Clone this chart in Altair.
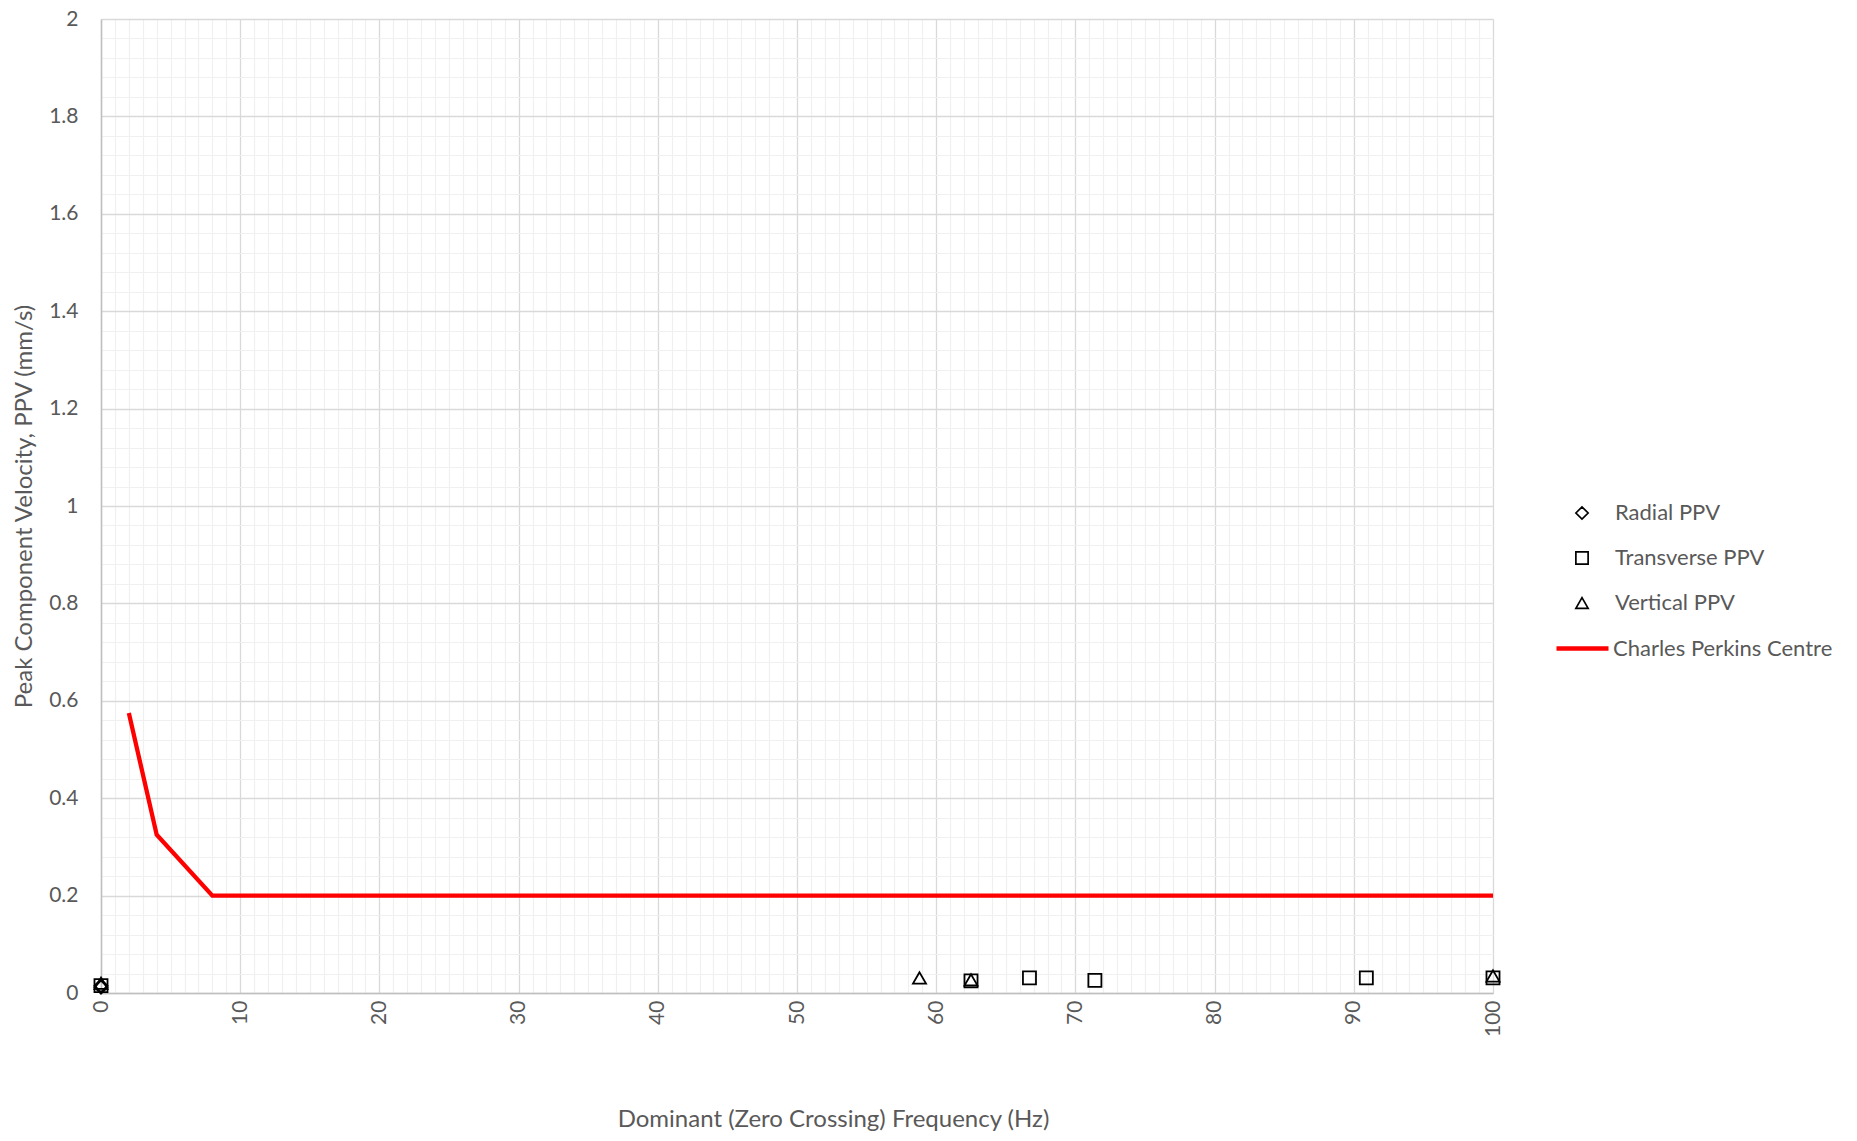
import altair as alt
import pandas as pd

# ---- data ----
radial_freq = [0, 0]
radial_ppv = [0.015, 0.012]

trans_freq = [0, 62.5, 66.7, 71.4, 90.9, 100]
trans_ppv = [0.015, 0.025, 0.031, 0.026, 0.031, 0.031]

vert_freq = [0, 58.8, 62.5, 100]
vert_ppv = [0.02, 0.031, 0.027, 0.035]

crit_freq = [2, 4, 8, 100]
crit_ppv = [0.575, 0.325, 0.2, 0.2]

series_names = ["Radial PPV", "Transverse PPV", "Vertical PPV"]
line_name = "Charles Perkins Centre"

x_ticks = list(range(0, 101))
y_ticks = [round(i * 0.04, 2) for i in range(51)]

pts = pd.DataFrame({
    "freq": radial_freq + trans_freq + vert_freq,
    "ppv": radial_ppv + trans_ppv + vert_ppv,
    "series": ["Radial PPV"] * len(radial_freq)
    + ["Transverse PPV"] * len(trans_freq)
    + ["Vertical PPV"] * len(vert_freq),
})
line_df = pd.DataFrame({"freq": crit_freq, "ppv": crit_ppv, "curve": [line_name] * len(crit_freq)})

FONT = "Lato"
LABEL_COLOR = "#595959"
PLOT_W, PLOT_H = 1392, 974

Y_MAJOR = "round(datum.value * 100) % 20 === 0"

x_enc = alt.X(
    "freq:Q",
    scale=alt.Scale(domain=[0, 100], nice=False),
    axis=alt.Axis(
        values=x_ticks,
        labelExpr="datum.value % 10 === 0 ? datum.label : ''",
        labelAngle=-90,
        labelAlign="right",
        labelBaseline="middle",
        labelPadding=7,
        labelFlush=False,
        labelOverlap=False,
        labelFont=FONT,
        labelFontSize=21,
        labelColor=LABEL_COLOR,
        ticks=False,
        domainColor="#bfbfbf",
        domainWidth=1.5,
        grid=True,
        gridColor={"condition": {"test": "datum.value % 10 === 0", "value": "#d9d9d9"}, "value": "#f0f0f0"},
        gridWidth={"condition": {"test": "datum.value % 10 === 0", "value": 1.3}, "value": 1.2},
        title="Dominant (Zero Crossing) Frequency (Hz)",
        titleFont=FONT,
        titleFontSize=24,
        titleFontWeight="normal",
        titleColor=LABEL_COLOR,
        titleX=732,
        titleY=126,
        titleAlign="center",
        titleBaseline="middle",
    ),
)

y_enc = alt.Y(
    "ppv:Q",
    scale=alt.Scale(domain=[0, 2], nice=False),
    axis=alt.Axis(
        values=y_ticks,
        labelExpr=Y_MAJOR + " ? '' + round(datum.value * 10) / 10 : ''",
        labelPadding=23,
        labelFlush=False,
        labelOverlap=False,
        labelFont=FONT,
        labelFontSize=21,
        labelColor=LABEL_COLOR,
        ticks=False,
        domainColor="#bfbfbf",
        domainWidth=1.5,
        grid=True,
        gridColor={"condition": {"test": Y_MAJOR, "value": "#d9d9d9"}, "value": "#f0f0f0"},
        gridWidth={"condition": {"test": Y_MAJOR, "value": 1.3}, "value": 1.2},
        title="Peak Component Velocity, PPV (mm/s)",
        titleFont=FONT,
        titleFontSize=24,
        titleFontWeight="normal",
        titleColor=LABEL_COLOR,
        titleAngle=-90,
        titleX=-77,
        titleY=487,
        titleAlign="center",
        titleBaseline="middle",
    ),
)

points = alt.Chart(pts).mark_point(filled=False, strokeWidth=1.8, size=170, opacity=1).encode(
    x=x_enc,
    y=y_enc,
    shape=alt.Shape(
        "series:N",
        scale=alt.Scale(domain=series_names, range=["diamond", "square", "triangle-up"]),
        legend=alt.Legend(
            title=None,
            orient="none",
            legendX=1470,
            legendY=483,
            padding=0,
            symbolSize=150,
            symbolStrokeWidth=1.7,
            symbolStrokeColor="black",
            symbolFillColor="transparent",
            labelFont=FONT,
            labelFontSize=22,
            labelColor=LABEL_COLOR,
            labelOffset=22,
            labelLimit=0,
            rowPadding=23,
        ),
    ),
    color=alt.value("black"),
)

line = alt.Chart(line_df).mark_line(strokeWidth=4.3, clip=False).encode(
    x=x_enc,
    y=y_enc,
    color=alt.Color(
        "curve:N",
        scale=alt.Scale(domain=[line_name], range=["#ff0000"]),
        legend=alt.Legend(
            title=None,
            orient="none",
            legendX=1453,
            legendY=601,
            padding=0,
            symbolType="stroke",
            symbolSize=2704,
            symbolStrokeWidth=4.3,
            labelFont=FONT,
            labelFontSize=22,
            labelColor=LABEL_COLOR,
            labelOffset=2,
            labelLimit=0,
        ),
    ),
)

chart = (
    alt.layer(line, points)
    .resolve_scale(color="independent")
    .properties(
        width=PLOT_W,
        height=PLOT_H,
        padding={"left": 93, "top": 11, "right": 340, "bottom": 138},
        autosize=alt.AutoSizeParams(type="none"),
    )
    .configure_view(stroke=None)
)

chart.save("out.html", embed_options={"renderer": "svg", "actions": False})
